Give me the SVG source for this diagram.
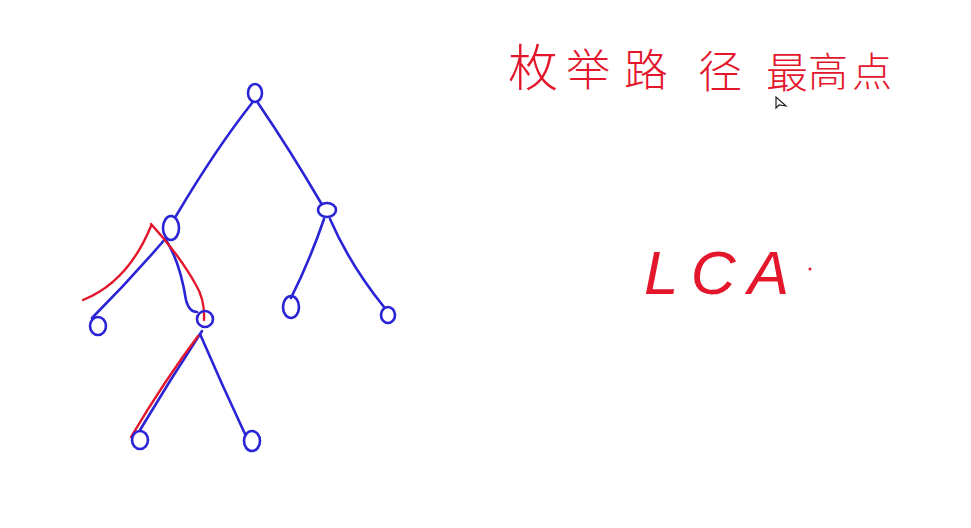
<svg xmlns="http://www.w3.org/2000/svg" width="971" height="528" viewBox="0 0 971 528">
<style>
.n{fill:none;stroke:#2a24d6;stroke-width:2.6}
.e{fill:none;stroke:#2a24d6;stroke-width:2.6;stroke-linecap:round;stroke-linejoin:round}
.r{fill:none;stroke:#e3162c;stroke-width:2.4;stroke-linecap:round;stroke-linejoin:round}
.t{fill:#e3162c;font-family:"Noto Sans CJK SC","Noto Sans",sans-serif;font-weight:300}
.l{fill:#e3162c;font-family:"Liberation Sans",sans-serif;font-style:italic}
</style>
<rect width="971" height="528" fill="#ffffff"/>
<g id="connectors">
<path class="e" d="M252,103 Q215,150 176,216"/>
<path class="e" d="M258,103 Q290,150 321,203"/>
<path class="e" d="M166,238 Q130,280 92,318"/>
<path class="e" d="M166,240 Q180,262 186,300 Q189,312 197,312"/>
<path class="e" d="M324,219 Q310,260 291,298"/>
<path class="e" d="M330,219 Q350,265 384,307"/>
<path class="e" d="M202,331 Q170,380 140,430"/>
<path class="e" d="M200,334 Q222,385 245,434"/>
</g>
<g id="path-highlight">
<path class="r" d="M83,300 Q128,282 151,226"/>
<path class="r" d="M151,224 Q180,256 196,285 Q205,300 204,320"/>
<path class="r" d="M198,336 Q165,380 131,437"/>
</g>
<g id="n1"><ellipse class="n" cx="255" cy="93" rx="7" ry="9"/></g>
<g id="n2"><ellipse class="n" cx="171" cy="228" rx="8" ry="12"/></g>
<g id="n3"><ellipse class="n" cx="327" cy="210" rx="9" ry="7"/></g>
<g id="n4"><ellipse class="n" cx="98" cy="326" rx="8" ry="9"/></g>
<g id="n5"><ellipse class="n" cx="205" cy="319" rx="8" ry="8"/></g>
<g id="n6"><ellipse class="n" cx="291" cy="307" rx="8" ry="11"/></g>
<g id="n7"><ellipse class="n" cx="388" cy="315" rx="7" ry="8"/></g>
<g id="n8"><ellipse class="n" cx="140" cy="440" rx="8" ry="9"/></g>
<g id="n9"><ellipse class="n" cx="252" cy="441" rx="8" ry="10"/></g>
<g id="title">
<text class="t" x="508" y="86" font-size="50">枚</text>
<text class="t" x="566" y="86" font-size="44">举</text>
<text class="t" x="624" y="86" font-size="44">路</text>
<text class="t" x="698" y="88" font-size="44">径</text>
<text class="t" x="766" y="88" font-size="42">最</text>
<text class="t" x="808" y="86" font-size="40">高</text>
<text class="t" x="852" y="86" font-size="40">点</text>
</g>
<g id="lca">
<text class="l" x="644" y="294" font-size="62" textLength="145" lengthAdjust="spacing">LCA</text>
<circle cx="810" cy="269" r="1.5" fill="#e3162c"/>
</g>
<path d="M776,97 L776,108 L779,105 L786,106 Z" fill="#fff" stroke="#222" stroke-width="1.2"/>
</svg>
